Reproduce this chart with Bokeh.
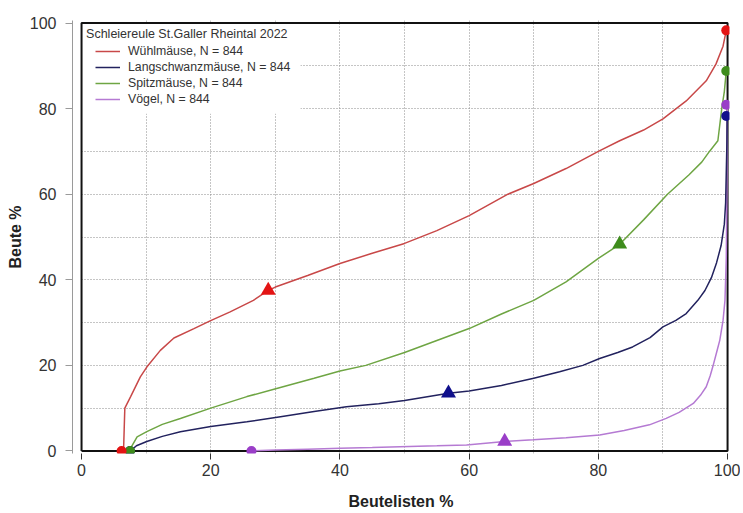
from bokeh.plotting import figure
from bokeh.models import Legend, LegendItem, FixedTicker, Label, Range1d, BoxAnnotation
from bokeh.embed import file_html
from bokeh.resources import INLINE

# ---- data ----
title_text = "Schleiereule St.Galler Rheintal 2022"
names = ["Wühlmäuse, N = 844", "Langschwanzmäuse, N = 844", "Spitzmäuse, N = 844", "Vögel, N = 844"]

red_x = [6.2, 6.5, 6.6, 6.7, 7.6, 9.1, 10.1, 12.2, 14.3, 17.4, 19.9, 23.0, 26.6, 28.9, 30, 35, 40, 45, 50, 55,
         60, 66, 70, 75, 80, 83.3, 87, 90, 93.6, 96.7, 98.2, 99.3, 99.8]
red_y = [0, 0, 5, 10, 12.7, 17.3, 19.6, 23.5, 26.4, 28.6, 30.4, 32.5, 35.2, 37.5, 38.3, 41, 43.8, 46.2, 48.5, 51.5,
         55, 60, 62.5, 66, 70, 72.5, 75, 77.6, 81.8, 86.5, 90.4, 94.6, 98.3]

blue_x = [7.5, 7.8, 8.5, 10.1, 12.5, 15.3, 20, 25.6, 30.8, 36, 41, 46, 50, 56.8, 60, 65, 70, 74, 77.6, 80.2, 83,
          85.3, 88, 90, 92, 93.6, 95.4, 96.5, 97.5, 98.3, 99.0, 99.5, 99.7, 99.8, 99.9, 99.95]
blue_y = [0, 0.3, 1.2, 2.2, 3.4, 4.5, 5.7, 6.8, 8, 9.2, 10.3, 11, 11.8, 13.5, 14, 15.3, 17, 18.5, 20, 21.6, 23,
          24.3, 26.5, 29, 30.5, 32.1, 35.2, 37.5, 40.5, 44, 48, 53, 58, 65, 72, 78.3]

green_x = [7.5, 7.8, 8.6, 10.1, 12.5, 15.3, 20, 25.6, 30.2, 36, 40, 44, 50, 55, 60, 65, 70, 75, 80, 83.3, 87,
           90.7, 94, 96, 97.2, 98.5, 99.1, 99.5, 99.8]
green_y = [0, 1.2, 3.3, 4.5, 6.2, 7.6, 10, 12.7, 14.6, 17, 18.7, 20, 23, 25.8, 28.6, 32, 35.2, 39.5, 45, 48.3, 54,
           60, 64.5, 67.5, 70, 72.5, 80, 84, 88.8]

purple_x = [26.3, 30, 35, 40, 45, 49.3, 55, 59.6, 65.5, 69.9, 75, 80.2, 84, 87.9, 90.5, 92.5, 94.7, 95.8, 96.7,
            97.3, 97.7, 98.3, 98.8, 99.3, 99.6, 99.8, 99.9, 99.95]
purple_y = [0, 0.2, 0.4, 0.6, 0.8, 1.0, 1.2, 1.4, 2.2, 2.6, 3.1, 3.7, 4.8, 6.1, 7.6, 9, 11.1, 13, 15, 17.5, 19.6,
            23, 25.9, 30.5, 35.2, 45, 60, 80.9]

# start, end and median markers
start_x = [6.2, 7.5, 7.5, 26.3]
end_x = [99.8, 99.8, 99.8, 99.8]
end_y = [98.3, 78.3, 88.8, 80.9]
tri_x = [28.9, 56.8, 83.3, 65.5]
tri_y = [37.5, 13.5, 48.3, 2.2]

x_ticks = [0, 20, 40, 60, 80, 100]
y_ticks = [0, 20, 40, 60, 80, 100]
grid_ticks = [10, 20, 30, 40, 50, 60, 70, 80, 90]

line_colors = ["#c84848", "#22225e", "#6ea543", "#b57ad3"]
marker_colors = ["#e31414", "#10108c", "#3e8c1c", "#9a3ec8"]

FONT = "Liberation Sans"

p = figure(width=740, height=512, output_backend="svg", toolbar_location=None,
           x_range=Range1d(-1.4, 100.3), y_range=Range1d(-0.6, 100.6),
           min_border_left=72, min_border_right=11, min_border_top=20, min_border_bottom=59)
p.outline_line_color = None
p.background_fill_color = "white"
p.border_fill_color = "white"

# grids: dotted, 10 steps
for g in (p.xgrid, p.ygrid):
    g.ticker = FixedTicker(ticks=grid_ticks)
    g.grid_line_color = "#8a8a8a"
    g.grid_line_dash = "1 2"
    g.grid_line_width = 1

# white strip hiding the grid left of the x=0 frame line, and white legend area
p.add_layout(BoxAnnotation(right=x_ticks[0], fill_color="white", fill_alpha=1.0, line_color=None,
                           level="underlay"))
p.add_layout(BoxAnnotation(left=0, right=33.9, bottom=78.8, top=100, fill_color="white", fill_alpha=1.0,
                           line_color=None, level="underlay"))

# axes
xa = p.xaxis[0]
xa.ticker = FixedTicker(ticks=x_ticks)
xa.axis_line_color = None
xa.major_tick_line_color = "#333333"
xa.major_tick_out = 6
xa.major_tick_in = 0
xa.minor_tick_line_color = None
xa.major_label_text_font = FONT
xa.major_label_text_font_size = "16px"
xa.major_label_text_color = "#333333"
xa.major_label_standoff = 4
xa.axis_label = "Beutelisten %"
xa.axis_label_text_font = FONT
xa.axis_label_text_font_size = "16px"
xa.axis_label_text_font_style = "bold"
xa.axis_label_text_color = "#222222"
xa.axis_label_standoff = 14

ya = p.yaxis[0]
ya.ticker = FixedTicker(ticks=y_ticks)
ya.axis_line_color = "#9a9a9a"
ya.axis_line_width = 1
ya.major_tick_line_color = "#9a9a9a"
ya.major_tick_out = 7
ya.major_tick_in = 0
ya.minor_tick_line_color = None
ya.major_label_text_font = FONT
ya.major_label_text_font_size = "16px"
ya.major_label_text_color = "#333333"
ya.major_label_standoff = 9
ya.axis_label = "Beute %"
ya.axis_label_text_font = FONT
ya.axis_label_text_font_size = "16px"
ya.axis_label_text_font_style = "bold"
ya.axis_label_text_color = "#222222"
ya.axis_label_standoff = 3

series = [(red_x, red_y), (blue_x, blue_y), (green_x, green_y), (purple_x, purple_y)]
order = [3, 1, 2, 0]  # draw purple first, red last

# frame box around 0..100
p.multi_line(xs=[[x_ticks[0], x_ticks[-1], x_ticks[-1], x_ticks[0], x_ticks[0]]],
             ys=[[y_ticks[0], y_ticks[0], y_ticks[-1], y_ticks[-1], y_ticks[0]]],
             line_color="#111111", line_width=2)

renderers = {}
for i in order:
    xs, ys = series[i]
    renderers[i] = p.line(xs, ys, line_color=line_colors[i], line_width=1.5)

for i in order:
    p.scatter([start_x[i]], [0], marker="circle", size=10, fill_color=marker_colors[i],
              line_color=None)
    p.scatter([tri_x[i]], [tri_y[i]], marker="triangle", size=15, fill_color=marker_colors[i],
              line_color=None)
for i in [1, 3, 2, 0]:
    p.scatter([end_x[i]], [end_y[i]], marker="circle", size=10, fill_color=marker_colors[i],
              line_color=None)

legend = Legend(items=[LegendItem(label=names[i], renderers=[renderers[i]]) for i in range(4)],
                location="top_left", margin=23, padding=0, spacing=0,
                glyph_width=25, glyph_height=16, label_height=16, label_standoff=8,
                label_text_font=FONT, label_text_font_size="12.3px", label_text_color="#333333",
                border_line_color=None, background_fill_alpha=0.0)
p.add_layout(legend)

title = Label(x=0.7, y=97.4, text=title_text, text_font=FONT, text_font_size="12.5px",
              text_color="#333333", text_baseline="middle", text_align="left")
p.add_layout(title)

open("out.html", "w").write(file_html(p, INLINE))
